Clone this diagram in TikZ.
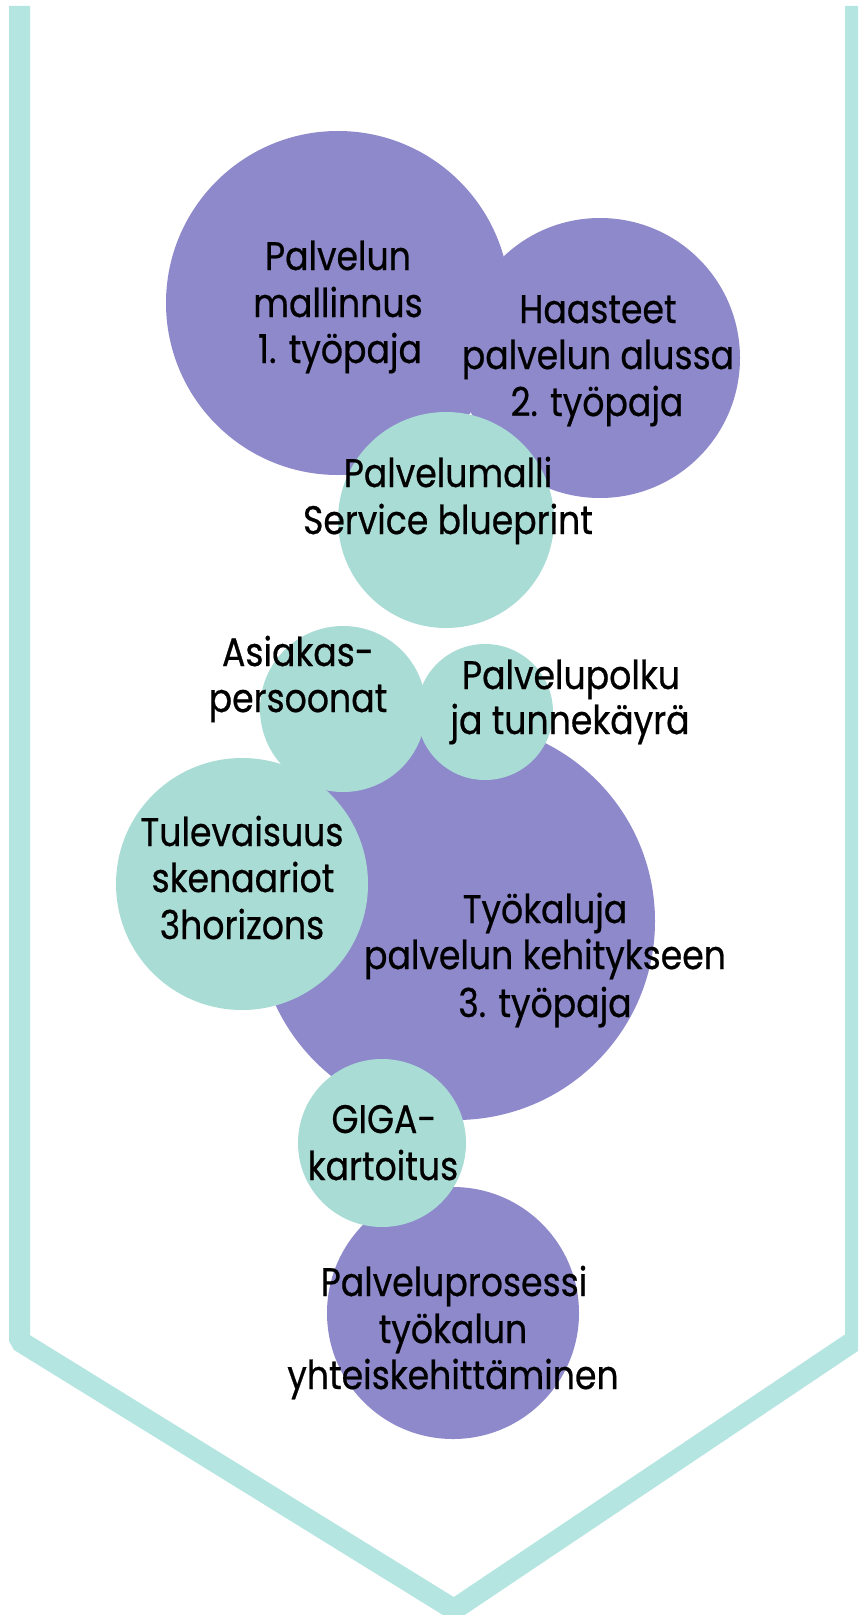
\documentclass[tikz,border=0pt]{standalone}
\usepackage{fontspec}
\setmainfont{Poppins}[FakeStretch=0.87, FakeBold=0.6]
\definecolor{purp}{HTML}{8E89CB}
\definecolor{teal1}{HTML}{AADCD6}
\definecolor{teal2}{HTML}{B4E5E1}
\tikzset{
  bubble/.style={circle, inner sep=0pt, draw=none},
  pbub/.style={bubble, fill=purp},
  tbub/.style={bubble, fill=teal1},
  lbl/.style={anchor=base, inner sep=0pt, font=\fontsize{40}{48}\selectfont, text=black},
  frame/.style={draw=teal2, line width=21bp, line join=bevel}
}
\begin{document}
\begin{tikzpicture}[x=1bp, y=-1bp]
\useasboundingbox (0,0) rectangle (858,1615);
\clip (0,0) rectangle (858,1615);
% frame
\coordinate (f1) at (19.5,6);
\coordinate (f2) at (19.5,1341);
\coordinate (f3) at (454,1609.5);
\coordinate (f4) at (855.5,1340);
\coordinate (f5) at (855.5,6);
\draw[frame] (f1) -- (f2) -- (f3) -- (f4) -- (f5);
% purple bubbles
\node[pbub, minimum size=344bp] (c1) at (338,303) {};
\node[pbub, minimum size=280bp] (c2) at (600,358) {};
\node[pbub, minimum size=398bp] (c6) at (456,921) {};
\node[pbub, minimum size=252bp] (c9) at (453,1313) {};
% teal bubbles
\node[tbub, minimum size=216bp] (c3) at (446,520) {};
\node[tbub, minimum size=166bp] (c4) at (343,709) {};
\node[tbub, minimum size=136bp] (c5) at (485,712) {};
\node[tbub, minimum size=252bp] (c7) at (242,884) {};
\node[tbub, minimum size=168bp] (c8) at (382,1143) {};
% labels
\node[lbl] (t1a) at (338,270) {Palvelun};
\node[lbl] (t1b) at (338,317) {mallinnus};
\node[lbl] (t1c) at (340,363) {1. työpaja};
\node[lbl] (t2a) at (598,323) {Haasteet};
\node[lbl] (t2b) at (598,369) {palvelun alussa};
\node[lbl] (t2c) at (597,416) {2. työpaja};
\node[lbl] (t3a) at (448,487) {Palvelumalli};
\node[lbl] (t3b) at (448,534) {Service blueprint};
\node[lbl] (t4a) at (298,666) {Asiakas-};
\node[lbl] (t4b) at (298,712) {persoonat};
\node[lbl] (t5a) at (571,689) {Palvelupolku};
\node[lbl] (t5b) at (570,734) {ja tunnekäyrä};
\node[lbl] (t7a) at (242,846) {Tulevaisuus};
\node[lbl] (t7b) at (243,892) {skenaariot};
\node[lbl] (t7c) at (242,939) {3horizons};
\node[lbl] (t6a) at (545,923) {Työkaluja};
\node[lbl] (t6b) at (545,969) {palvelun kehitykseen};
\node[lbl] (t6c) at (545,1017) {3. työpaja};
\node[lbl] (t8a) at (384,1133) {GIGA-};
\node[lbl] (t8b) at (383,1180) {kartoitus};
\node[lbl] (t9a) at (454,1296) {Palveluprosessi};
\node[lbl] (t9b) at (453,1343) {työkalun};
\node[lbl] (t9c) at (453,1389) {yhteiskehittäminen};
\end{tikzpicture}
\end{document}
